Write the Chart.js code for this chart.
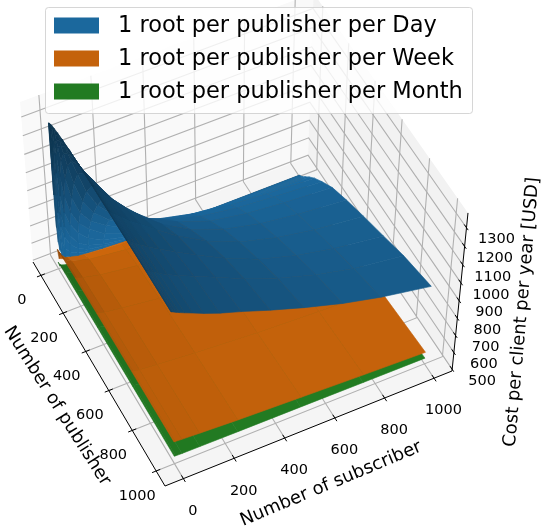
<!DOCTYPE html>
<html><head><meta charset="utf-8">
<style>html,body{margin:0;background:#fff}canvas{display:block}</style>
<script src="https://cdn.jsdelivr.net/npm/chart.js@4"></script>
</head><body><canvas id="c" width="550" height="528"></canvas>
<script>
const SERIES = ["1 root per publisher per Day","1 root per publisher per Week","1 root per publisher per Month"];
const SERIES_COLORS = ["#1f77b4","#ff7f0e","#2ca02c"];
const PUB_TICKS = [0,200,400,600,800,1000];
const SUB_TICKS = [0,200,400,600,800,1000];
const COST_TICKS = [500,600,700,800,900,1000,1100,1200,1300];
const PUB_TITLE = "Number of publisher", SUB_TITLE = "Number of subscriber", COST_TITLE = "Cost per client per year [USD]";

const DAY_PUB = [1,3,6,10,18,30,50,80,120,180,260,370,500,650,800,1000];
const DAY_SUB = [0,1,3,6,10,18,30,50,80,120,180,260,370,500,650,800,1000];
const DAY_COST = [
[1305,914,729,643,597,561,545,536,525,519,512,506,502,500,499,499,499],
[1307,1144,915,785,717,643,597,564,541,528,518,511,506,502,500,499,499],
[1310,1223,1072,916,816,730,666,612,571,545,529,517,508,503,502,501,501],
[1312,1257,1163,1031,917,805,730,666,608,572,545,526,513,505,504,503,503],
[1316,1284,1227,1150,1048,918,818,741,676,621,581,552,531,517,513,511,509],
[1322,1304,1265,1216,1154,1039,922,820,741,689,629,587,555,535,524,520,520],
[1327,1316,1292,1260,1220,1144,1041,923,822,754,697,641,599,570,551,542,540],
[1333,1327,1311,1290,1262,1214,1142,1035,919,834,761,705,657,618,595,579,570],
[1339,1333,1324,1308,1290,1255,1207,1126,1017,919,832,762,710,667,638,621,605],
[1345,1341,1335,1325,1310,1285,1250,1197,1111,1018,919,836,769,717,684,667,647],
[1350,1347,1342,1334,1324,1306,1281,1242,1180,1101,1009,917,841,775,738,717,697],
[1355,1352,1348,1343,1336,1322,1304,1273,1228,1173,1093,1004,915,847,798,769,742],
[1358,1355,1352,1348,1342,1332,1317,1295,1258,1219,1157,1080,992,915,858,821,789],
[1362,1360,1358,1354,1350,1341,1329,1310,1281,1248,1201,1138,1060,983,920,878,839],
[1365,1363,1361,1358,1355,1347,1337,1320,1298,1270,1233,1182,1113,1043,978,930,890],
[1366,1365,1364,1362,1359,1353,1345,1332,1314,1289,1256,1219,1164,1104,1042,992,940]];
const FLAT_PUB = [1,15,60,160,350,650,1000];
const FLAT_SUB = [0,5,30,100,250,500,750,1000];
const WEEK_COST = [
[606,548,532,523,509,497,497,497],
[607,593,558,536,515,497,497,497],
[610,606,584,556,530,501,497,497],
[613,611,598,575,546,517,497,497],
[618,616,608,592,565,538,515,500],
[621,620,614,604,584,560,542,528],
[623,623,620,614,602,587,572,559]];
const MONTH_COST = [
[530,505,498,493,491,491,491,491],
[531,525,510,497,491,491,491,491],
[532,530,518,503,492,491,491,491],
[533,532,522,510,494,491,491,491],
[534,533,526,517,503,492,491,491],
[535,534,530,525,515,505,497,495],
[535,535,534,533,531,529,526,524]];

const PMIN=-72,PMAX=1073,SMIN=-72,SMAX=1073,ZMIN=490,ZMAX=1378;

// camera: floor corners, vanishing point of the verticals, and the height of the top-left pane corner
const FC={x:33,y:262},FA={x:165,y:486},FB={x:452,y:371},FD={x:308,y:157},VP={x:224,y:2625},TOP_LEFT_Y=102;
const dx1=FA.x-FB.x,dx2=FD.x-FB.x,ssx=FC.x-FA.x+FB.x-FD.x,dy1=FA.y-FB.y,dy2=FD.y-FB.y,ssy=FC.y-FA.y+FB.y-FD.y;
const den=dx1*dy2-dx2*dy1,hg=(ssx*dy2-dx2*ssy)/den,hh=(dx1*ssy-ssx*dy1)/den;
const ha=FA.x-FC.x+hg*FA.x,hb=FD.x-FC.x+hh*FD.x,hd=FA.y-FC.y+hg*FA.y,he=FD.y-FC.y+hh*FD.y;
const lam=(TOP_LEFT_Y-FC.y)/(VP.y-TOP_LEFT_Y);
function proj(p,s,z){
  const u=(p-PMIN)/(PMAX-PMIN),v=(s-SMIN)/(SMAX-SMIN),w=(z-ZMIN)/(ZMAX-ZMIN);
  const d=hg*u+hh*v+1+lam*w;
  return {x:(ha*u+hb*v+FC.x+lam*VP.x*w)/d,y:(hd*u+he*v+FC.y+lam*VP.y*w)/d};
}
const datasets=[];
function poly(pts3,fillC,lineC,lw){
  datasets.push({data:pts3.map(q=>proj(q[0],q[1],q[2])),showLine:true,fill:fillC?'shape':false,
    backgroundColor:fillC||'transparent',borderColor:lineC||'transparent',borderWidth:lw||0,
    pointRadius:0,tension:0,clip:false,borderCapStyle:'butt'});
}
// panes
poly([[PMIN,SMIN,ZMIN],[PMIN,SMAX,ZMIN],[PMIN,SMAX,ZMAX],[PMIN,SMIN,ZMAX],[PMIN,SMIN,ZMIN]],'#f9f9f9');
poly([[PMIN,SMAX,ZMIN],[PMAX,SMAX,ZMIN],[PMAX,SMAX,ZMAX],[PMIN,SMAX,ZMAX],[PMIN,SMAX,ZMIN]],'#f2f2f2');
poly([[PMIN,SMIN,ZMIN],[PMAX,SMIN,ZMIN],[PMAX,SMAX,ZMIN],[PMIN,SMAX,ZMIN],[PMIN,SMIN,ZMIN]],'#f5f5f5');
// grid
const GRID='#b0b0b0',GW=1.1;
for(const t of PUB_TICKS){poly([[t,SMIN,ZMIN],[t,SMAX,ZMIN],[t,SMAX,ZMAX]],null,GRID,GW);}
for(const t of SUB_TICKS){poly([[PMAX,t,ZMIN],[PMIN,t,ZMIN],[PMIN,t,ZMAX]],null,GRID,GW);}
for(const t of COST_TICKS){poly([[PMIN,SMIN,t],[PMIN,SMAX,t],[PMAX,SMAX,t]],null,GRID,GW);}
// axes
poly([[PMIN,SMIN,ZMIN],[PMAX,SMIN,ZMIN]],null,'#000',1);
poly([[PMAX,SMIN,ZMIN],[PMAX,SMAX,ZMIN]],null,'#000',1);
poly([[PMAX,SMAX,ZMIN],[PMAX,SMAX,ZMAX]],null,'#000',1);
for(const t of PUB_TICKS)poly([[t,SMIN-16,ZMIN],[t,SMIN+16,ZMIN]],null,'#000',1);
for(const t of SUB_TICKS)poly([[PMAX+16,t,ZMIN],[PMAX-16,t,ZMIN]],null,'#000',1);
for(const t of COST_TICKS)poly([[PMAX+12,SMAX,t],[PMAX-16,SMAX,t]],null,'#000',1);
// surfaces
function hex(c){return [parseInt(c.slice(1,3),16),parseInt(c.slice(3,5),16),parseInt(c.slice(5,7),16)];}
const L=[-0.6667,-0.6667,0.3333];
function surface(P,S,Z,color){
  const base=hex(color),q=[],shade=[];
  for(let i=0;i<P.length-1;i++){shade.push([]);for(let j=0;j<S.length-1;j++){
    const a=[P[i],S[j],Z[i][j]],b=[P[i+1],S[j],Z[i+1][j]],c=[P[i+1],S[j+1],Z[i+1][j+1]],d=[P[i],S[j+1],Z[i][j+1]];
    const e=[c[0]-a[0],c[1]-a[1],c[2]-a[2]],f=[d[0]-b[0],d[1]-b[1],d[2]-b[2]];
    let n=[e[1]*f[2]-e[2]*f[1],e[2]*f[0]-e[0]*f[2],e[0]*f[1]-e[1]*f[0]];
    if(n[2]<0)n=n.map(x=>-x);
    const len=Math.hypot(...n),dot=(n[0]*L[0]+n[1]*L[1]+n[2]*L[2])/len;
    shade[i].push(0.3+0.35*(1+dot));
  }}
  for(let i=0;i<P.length-1;i++)for(let j=0;j<S.length-1;j++){
    let tot=2*shade[i][j],wt=2;
    for(const [a,b] of [[i-1,j],[i+1,j],[i,j-1],[i,j+1]]){if(shade[a]&&shade[a][b]!==undefined){tot+=shade[a][b];wt++;}}
    const sh=tot/wt;
    const A=[P[i],S[j],Z[i][j]],B=[P[i+1],S[j],Z[i+1][j]],C=[P[i+1],S[j+1],Z[i+1][j+1]],D=[P[i],S[j+1],Z[i][j+1]];
    const col=`rgb(${base.map(x=>Math.round(x*sh)).join(',')})`;
    const cu=(A[0]+C[0])/2,cv=(A[1]+C[1])/2,cz=(A[2]+B[2]+C[2]+D[2])/4;
    q.push({pts:[A,B,C,D,A],col,key:(cu-cv)/1145+(cz-ZMIN)/888});
  }
  q.sort((x,y)=>x.key-y.key);
  for(const t of q)poly(t.pts,t.col,t.col,0.6);
}
surface(FLAT_PUB,FLAT_SUB,MONTH_COST,SERIES_COLORS[2]);
surface(FLAT_PUB,FLAT_SUB,WEEK_COST,SERIES_COLORS[1]);
surface(DAY_PUB,DAY_SUB,DAY_COST,SERIES_COLORS[0]);
datasets.forEach((d,i)=>{d.order=datasets.length-i;});

const FONT='"DejaVu Sans"';
const LEGEND_SHADE=[0.87,0.77,0.77];
const labelsPlugin={id:'labels3d',afterDatasetsDraw(chart){
  const ctx=chart.ctx,sx=chart.scales.x,sy=chart.scales.y;
  const at=(p,s,z,dx,dy)=>{const q=proj(p,s,z);return [sx.getPixelForValue(q.x)+dx,sy.getPixelForValue(q.y)+dy];};
  ctx.save();ctx.fillStyle='#000';ctx.textAlign='center';ctx.textBaseline='middle';ctx.font='14.5px '+FONT;
  for(const t of PUB_TICKS){const [x,y]=at(t,SMIN,ZMIN,-19,25);ctx.fillText(String(t),x,y);}
  for(const t of SUB_TICKS){const [x,y]=at(PMAX,t,ZMIN,9.5,32.5);ctx.fillText(String(t),x,y);}
  for(const t of COST_TICKS){const [x,y]=at(PMAX,SMAX,t,30,12);ctx.fillText(String(t),x,y);}
  ctx.font='18px '+FONT;
  const rot=(txt,x,y,deg)=>{ctx.save();ctx.translate(x,y);ctx.rotate(deg*Math.PI/180);ctx.fillText(txt,0,0);ctx.restore();};
  rot(PUB_TITLE,57,406,57.7);
  rot(SUB_TITLE,331,484,-22.7);
  rot(COST_TITLE,522,312,-85);
  // legend
  ctx.beginPath();ctx.roundRect(45.5,7.5,427,106,3);ctx.fillStyle='rgba(255,255,255,0.8)';ctx.fill();
  ctx.strokeStyle='rgba(204,204,204,0.8)';ctx.lineWidth=1;ctx.stroke();
  ctx.textAlign='left';ctx.font='22.5px '+FONT;
  SERIES.forEach((name,i)=>{
    const y=25.5+i*33;
    const b=hex(SERIES_COLORS[i]);
    ctx.fillStyle=`rgb(${b.map(x=>Math.round(x*LEGEND_SHADE[i])).join(',')})`;
    ctx.fillRect(54,y-8,45,16);
    ctx.fillStyle='#000';ctx.fillText(name,118,y+0.5);
  });
  ctx.restore();
}};
new Chart(document.getElementById('c'),{type:'scatter',data:{datasets},plugins:[labelsPlugin],options:{
  responsive:false,animation:false,events:[],layout:{padding:0},
  plugins:{legend:{display:false},tooltip:{enabled:false}},
  scales:{x:{type:'linear',min:0,max:550,display:false},y:{type:'linear',min:0,max:528,reverse:true,display:false}}
}});
</script></body></html>
